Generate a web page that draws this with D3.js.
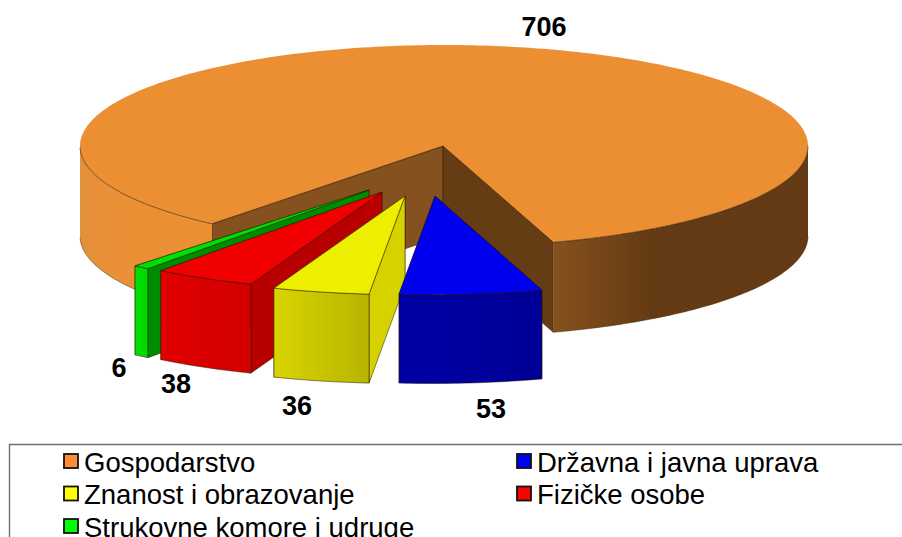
<!DOCTYPE html>
<html><head><meta charset="utf-8">
<script src="https://cdn.jsdelivr.net/npm/d3@7/dist/d3.min.js"></script>
<style>html,body{margin:0;padding:0;background:#fff;overflow:hidden}svg{display:block}text{font-family:"Liberation Sans",Arial,sans-serif}</style>
</head><body><svg id="c" width="902" height="537"></svg>
<script>
const categories = ["Gospodarstvo","Državna i javna uprava","Znanost i obrazovanje","Fizičke osobe","Strukovne komore i udruge"];
const values = [706,53,36,38,6];
const topColors = ["#ec8f33","#0000f0","#eeee00","#f00000","#00e000"];
const legendColors = ["#ff8c33","#0000ff","#ffff00","#ff0000","#00ff00"];
const wallColors = ["#663c14","#00009c","#d6d200","#b80000","#008c00"];
const rimStops = [["#e08a34","#e58d33"],["#0000a4","#000096"],["#d8d400","#b8b400"],["#e20000","#d20000"],["#00e000","#00d800"]];
// per-slice layout
const apexX = [443,435,405,382,369];
const apexY = [146,196,196,192,190];
const labelX = [544,491,297,176,119];
const labelY = [36,418,415,393,377];
const RX=364, RYS=[101,98.5,98.5,98.5,98.5], DEPTHS=[90,89,89,89,89], SHEAR=0.025, START=219.6;

const svg=d3.select("#c"), defs=svg.append("defs");
const pie=d3.pie().value((d,i)=>values[i]).sort(null).startAngle(START*Math.PI/180).endAngle((START+360)*Math.PI/180);
const arcs=pie(values);
const line=d3.line();
const pt=(i,a)=>{
  const dy=RYS[i]*-Math.cos(a);
  const sh=i===0?1:-SHEAR*(dy);
  return [apexX[i]+RX*Math.sin(a)+sh, apexY[i]+dy];
};
const sample=(i,a0,a1)=>{const n=Math.max(4,Math.ceil((a1-a0)*60));return d3.range(n+1).map(k=>pt(i,a0+(a1-a0)*k/n));};

function gradient(id,x0,x1,stops){
  const g=defs.append("linearGradient").attr("id",id).attr("gradientUnits","userSpaceOnUse")
    .attr("x1",x0).attr("x2",x1).attr("y1",0).attr("y2",0);
  stops.forEach(s=>g.append("stop").attr("offset",s[0]).attr("stop-color",s[1]));
  return `url(#${id})`;
}
const edge="rgba(40,25,5,.75)";
function drawSlice(i){
  const d=arcs[i], g=svg.append("g"), apex=[apexX[i],apexY[i]];
  const down=p=>[p[0],p[1]+DEPTHS[i]];
  const a=sample(i,d.startAngle,d.endAngle);
  const first=a[0], last=a[a.length-1];
  const wall=(p,c)=>g.append("path").attr("d",line([apex,p,down(p),down(apex)])+"Z").attr("fill",c).attr("stroke",edge).attr("stroke-width",.7);
  if(i===0){
    wall(first,"#85521f");
    wall(last,wallColors[0]);
    const left=a.filter(p=>p[0]<=first[0]+.01 && p[1]>=146);
    const right=a.filter(p=>p[0]>=last[0]-.01 && p[1]>=146);
    const band=(pts,fill)=>g.append("path").attr("d",line(pts.concat(pts.slice().reverse().map(down)))+"Z").attr("fill",fill);
    band(left,gradient("rl",80,210,[[0,"#e2903c"],[.2,"#ea9036"],[1,"#ec8f33"]]));
    band(right,gradient("rr",553,808,[[0,"#85521f"],[.12,"#7c4a1b"],[.4,"#633a14"],[1,"#633a14"]]));
    g.append("path").attr("d",line([apex].concat(a))+"Z").attr("fill",topColors[0]);
    [left,right].forEach(pts=>{
      g.append("path").attr("d",line(pts)).attr("fill","none").attr("stroke",edge).attr("stroke-width",.8);
      g.append("path").attr("d",line(pts.map(down))).attr("fill","none").attr("stroke","rgba(60,40,15,.6)").attr("stroke-width",.8);
    });
    g.append("path").attr("d",line([first,apex,last])).attr("fill","none").attr("stroke",edge).attr("stroke-width",.8);
  } else {
    wall(last,wallColors[i]);
    wall(first,wallColors[i]);
    const x=d3.extent(a,p=>p[0]);
    const fill=gradient("r"+i,x[0],x[1],[[0,rimStops[i][0]],[1,rimStops[i][1]]]);
    g.append("path").attr("d",line(a.concat(a.slice().reverse().map(down)))+"Z").attr("fill",fill).attr("stroke",edge).attr("stroke-width",.7);
    g.append("path").attr("d",line([apex].concat(a))+"Z").attr("fill",topColors[i]).attr("stroke",edge).attr("stroke-width",.7);
  }
}
[0,4,3,2,1].forEach(drawSlice);

svg.selectAll("text.v").data(values).join("text").attr("class","v")
  .attr("x",(d,i)=>labelX[i]).attr("y",(d,i)=>labelY[i]).attr("text-anchor","middle")
  .attr("font-weight","bold").attr("font-size",27).attr("fill","#000").text(d=>d);

// legend
svg.append("path").attr("d","M9.5 537V444.5H902").attr("fill","none").attr("stroke","#6e6e6e").attr("stroke-width",1.4);
const legendOrder=[0,1,2,3,4];
const xCol=d3.scalePoint().domain([0,1]).range([63,516]);
const yRow=d3.scalePoint().domain([0,1,2]).range([453,518]);
const lg=svg.selectAll("g.l").data(legendOrder).join("g").attr("class","l")
  .attr("transform",(d,k)=>`translate(${xCol(k%2)},${yRow(Math.floor(k/2))})`);
lg.append("rect").attr("x",1).attr("y",1).attr("width",14).attr("height",14).attr("fill",i=>legendColors[i]).attr("stroke","#111").attr("stroke-width",1.8);
lg.append("text").attr("x",21).attr("y",18.5).attr("font-size",27.5).attr("fill","#000").text(i=>categories[i]);
</script></body></html>
